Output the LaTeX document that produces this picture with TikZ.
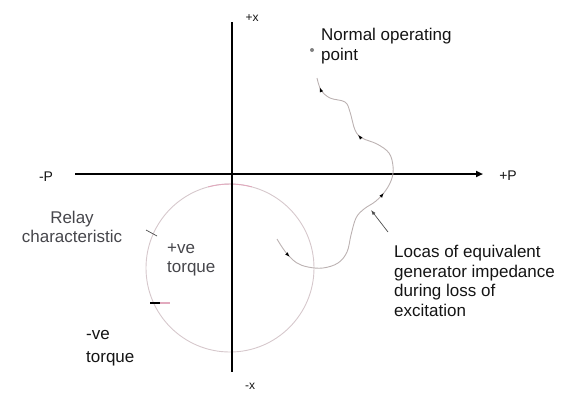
\documentclass[tikz,border=0pt]{standalone}
\usepackage{fontspec}
\setmainfont{Liberation Sans}
\usetikzlibrary{decorations.markings,arrows.meta}
\definecolor{circcol}{RGB}{214,200,204}
\definecolor{loccol}{RGB}{188,178,178}
\definecolor{pinkcol}{RGB}{226,170,190}
\definecolor{txtcol}{RGB}{20,20,20}
\definecolor{graytxt}{RGB}{70,70,75}
\begin{document}
\begin{tikzpicture}[x=1pt,y=-1pt,
  axis/.style={line width=1.8pt,black},
  lbl/.style={font=\fontsize{17}{19.5}\selectfont,text=txtcol,align=left,inner sep=0pt},
  axl/.style={font=\fontsize{12}{14}\selectfont,text=txtcol,inner sep=0pt},
  locus/.style={draw=loccol,line width=0.9pt},
  leader/.style={draw=black!70,line width=0.7pt}
]
\useasboundingbox (0,0) rectangle (564,392);
% axes
\coordinate (vt) at (232,22);
\coordinate (vb) at (232,372);
\coordinate (hl) at (75,174);
\coordinate (hr) at (483,174);
% relay circle
\coordinate (cc) at (230,268);
\draw[circcol,line width=0.9pt] (cc) circle[radius=84pt];
\draw[pinkcol,line width=0.9pt] (cc) ++(75:84pt) arc[start angle=75,end angle=105,radius=84pt];
\draw[axis] (vt) -- (vb);
\draw[axis,-{Triangle[length=7pt,width=6pt]}] (hl) -- (hr);
% axis labels
\node[axl] (px) at (252,18) {+x};
\node[axl] (mx) at (250,386) {-x};
\node[axl,font=\fontsize{14}{16}\selectfont] (mp) at (46,177) {-P};
\node[axl,font=\fontsize{14}{16}\selectfont] (pp) at (508,176) {+P};
% normal operating point
\coordinate (nop) at (312,50);
\fill[gray] (nop) circle[radius=2pt];
\node[lbl,anchor=west] (norm) at (321,46) {Normal operating\\point};
% locus curve
\draw[locus,postaction={decorate},decoration={markings,
   mark=at position 0.03 with {\arrowreversed[black]{Latex[length=5pt,width=3.5pt]}},
   mark=at position 0.24 with {\arrowreversed[black]{Latex[length=5pt,width=3.5pt]}},
   mark=at position 0.49 with {\arrowreversed[black]{Latex[length=5pt,width=3.5pt]}},
   mark=at position 0.93 with {\arrowreversed[black]{Latex[length=5pt,width=3.5pt]}}}]
  plot[smooth,tension=0.6] coordinates {(317,78) (321,90) (330,98) (345,102) (350,112) (355,130) (362,138) (377,144) (389,153) (393,166) (392,178) (386,190) (376,201) (364,209) (356,218) (351,235) (347,252) (338,263) (323,268) (308,267) (297,263) (288,255) (282,247) (277,239)};
% locus label and leader
\node[lbl,anchor=west] (loc) at (394,281) {Locas of equivalent\\generator impedance\\during loss of\\excitation};
\coordinate (locl) at (388,232);
\coordinate (loct) at (371,210);
\draw[leader,-{Latex[length=5pt,width=3.5pt]}] (locl) -- (loct);
% relay characteristic
\node[lbl,align=center,text=graytxt] (relay) at (72,227) {Relay\\characteristic};
\coordinate (rl1) at (146,230);
\coordinate (rl2) at (157,236);
\draw[leader] (rl1) -- (rl2);
% torque labels
\node[lbl,anchor=west,text=graytxt] (pve) at (167,260) {+ve\\torque};
\node[lbl,anchor=west,font=\fontsize{17}{23}\selectfont] (nve) at (86,348) {-ve\\torque};
% boundary tick
\coordinate (t1) at (150,303);
\coordinate (t2) at (160,303);
\coordinate (t3) at (170,303);
\draw[black,line width=1.4pt] (t1) -- (t2);
\draw[pinkcol,line width=1.4pt] (t2) -- (t3);
\end{tikzpicture}
\end{document}
